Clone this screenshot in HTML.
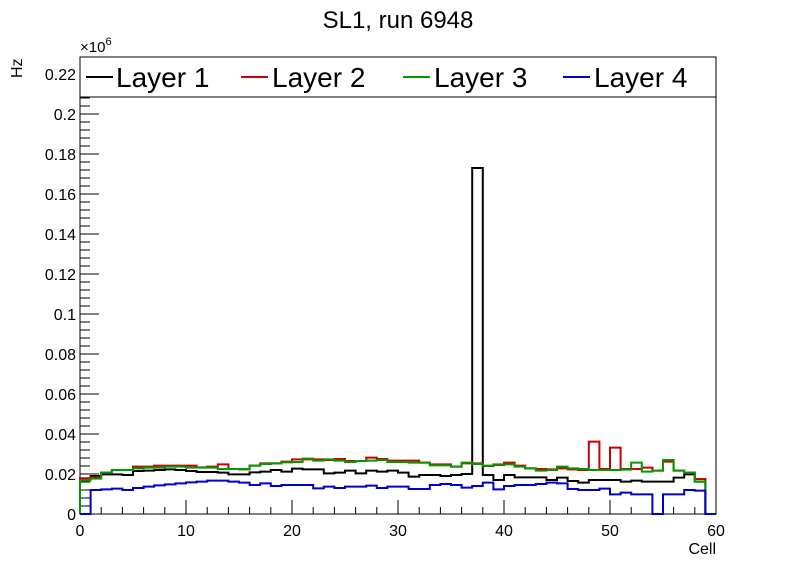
<!DOCTYPE html>
<html><head><meta charset="utf-8"><style>
body{margin:0;background:#fff;}
svg{display:block;font-family:"Liberation Sans",sans-serif;}
</style></head><body>
<svg id="c" width="796" height="572">
<text x="398" y="28" font-size="24" text-anchor="middle">SL1, run 6948</text>
<text transform="translate(22,78) rotate(-90)" font-size="16">Hz</text>
<text x="716" y="554" font-size="16" text-anchor="end">Cell</text>
<text x="80" y="52" font-size="15">×10<tspan dy="-7" font-size="11">6</tspan></text>
<g id="axes"></g>
<g id="series"></g>
<g>
<rect x="80" y="57" width="636" height="40" fill="#fff" stroke="#000" stroke-width="1"/>
<line x1="86" y1="77" x2="113" y2="77" stroke="#000" stroke-width="2"/>
<text x="116" y="87" font-size="28">Layer 1</text>
<line x1="241" y1="77" x2="268" y2="77" stroke="#cc0000" stroke-width="2"/>
<text x="272" y="87" font-size="28">Layer 2</text>
<line x1="403" y1="77" x2="430" y2="77" stroke="#009900" stroke-width="2"/>
<text x="434" y="87" font-size="28">Layer 3</text>
<line x1="563" y1="77" x2="590" y2="77" stroke="#0000cc" stroke-width="2"/>
<text x="594" y="87" font-size="28">Layer 4</text>
</g>
</svg>
<script>
const xTicks=[0,10,20,30,40,50,60];
const yTicks=[0,0.02,0.04,0.06,0.08,0.1,0.12,0.14,0.16,0.18,0.2,0.22];
const yTickLabels=["0","0.02","0.04","0.06","0.08","0.1","0.12","0.14","0.16","0.18","0.2","0.22"];
const layer1=[.0178,.019,.0198,.0198,.0195,.0215,.0217,.022,.0223,.022,.0215,.021,.021,.0207,.0198,.0198,.0208,.0212,.022,.0212,.0227,.0223,.0223,.0203,.0207,.0217,.0203,.0217,.0212,.0217,.0207,.0187,.0195,.0195,.019,.0195,.02,.173,.0195,.017,.0195,.0183,.0183,.0183,.017,.0182,.0165,.0157,.017,.017,.017,.0162,.0167,.0162,.0162,.0162,.0182,.0198,.0162,0];
const layer2=[.0178,.0183,.0207,.022,.022,.0237,.0237,.0242,.0242,.0242,.0242,.0233,.0237,.0248,.0225,.0223,.0242,.0253,.0253,.0262,.0273,.0273,.0273,.027,.0275,.0265,.0265,.0282,.0275,.0267,.0267,.0267,.0257,.0248,.0248,.0237,.0253,.0253,.024,.0245,.0257,.0242,.0228,.0225,.0223,.0228,.0223,.022,.0362,.0225,.0332,.0225,.0225,.0232,.0217,.0262,.0217,.0207,.0175,0];
const layer3=[.0167,.0177,.0207,.022,.022,.0228,.0232,.0232,.0237,.0237,.0232,.0232,.0232,.0225,.0225,.0225,.0242,.025,.0253,.0258,.026,.0277,.0267,.0273,.0267,.026,.0265,.0267,.027,.026,.026,.0257,.0257,.0243,.0243,.0237,.0257,.025,.0242,.0248,.0248,.0237,.0228,.0217,.022,.0237,.0228,.0225,.022,.022,.022,.0222,.0257,.0212,.0217,.027,.0217,.0207,.0162,0];
const layer4=[0,.012,.0123,.0127,.012,.013,.0137,.0143,.0148,.0153,.0158,.0162,.0167,.0167,.0162,.0157,.0145,.0153,.014,.0145,.0145,.0145,.0128,.0137,.013,.0137,.0137,.0142,.013,.0137,.0137,.0125,.0125,.0145,.015,.0145,.0132,.014,.0157,.0123,.014,.0145,.0145,.015,.0157,.0153,.0125,.012,.012,.0127,.0098,.0107,.0098,.0098,0,.0098,.0098,.012,.0117,0];
const X0=80,X1=716,Y0=514,YT=57,xMax=60,yMax=0.2285;
const sx=v=>X0+(X1-X0)*v/xMax;
const sy=v=>Y0-(Y0-YT)*v/yMax;
const NS="http://www.w3.org/2000/svg";
function mk(t,a,p){const e=document.createElementNS(NS,t);for(const k in a)e.setAttribute(k,a[k]);p.appendChild(e);return e;}
const ax=document.getElementById('axes');
const frame=mk('rect',{x:X0,y:YT,width:X1-X0,height:Y0-YT,fill:'none',stroke:'#000','stroke-width':1},ax);


let d='';
for(let v=0;v<=xMax+1e-9;v+=2){const x=sx(v);const L=(Math.round(v)%10===0)?14:7;d+=`M${x},${Y0}V${Y0-L}`;}
for(let v=0;v<=yMax;v+=0.004){const y=sy(v);const L=(Math.round(v*1000)%20===0)?19:10;d+=`M${X0},${y}H${X0+L}`;}
const tk=mk('path',{d:d,stroke:'#000','stroke-width':1,fill:'none'},ax);


xTicks.forEach(v=>{const t=mk('text',{x:sx(v),y:Y0+22,'font-size':16,'text-anchor':'middle'},ax);t.textContent=v;

});
yTicks.forEach((v,i)=>{const t=mk('text',{x:X0-4,y:sy(v)+6,'font-size':16,'text-anchor':'end'},ax);t.textContent=yTickLabels[i];

});
const sg=document.getElementById('series');
function hist(vals,col,name){let p=`M${sx(0)},${sy(0)}`;vals.forEach((v,i)=>{p+=`V${sy(v)}H${sx(i+1)}`;});p+=`V${sy(0)}`;
const e=mk('path',{d:p,stroke:col,'stroke-width':2,fill:'none'},sg);

}
hist(layer1,'#000','series-layer1');
hist(layer2,'#cc0000','series-layer2');
hist(layer3,'#009900','series-layer3');
hist(layer4,'#0000cc','series-layer4');
</script>
</body></html>
